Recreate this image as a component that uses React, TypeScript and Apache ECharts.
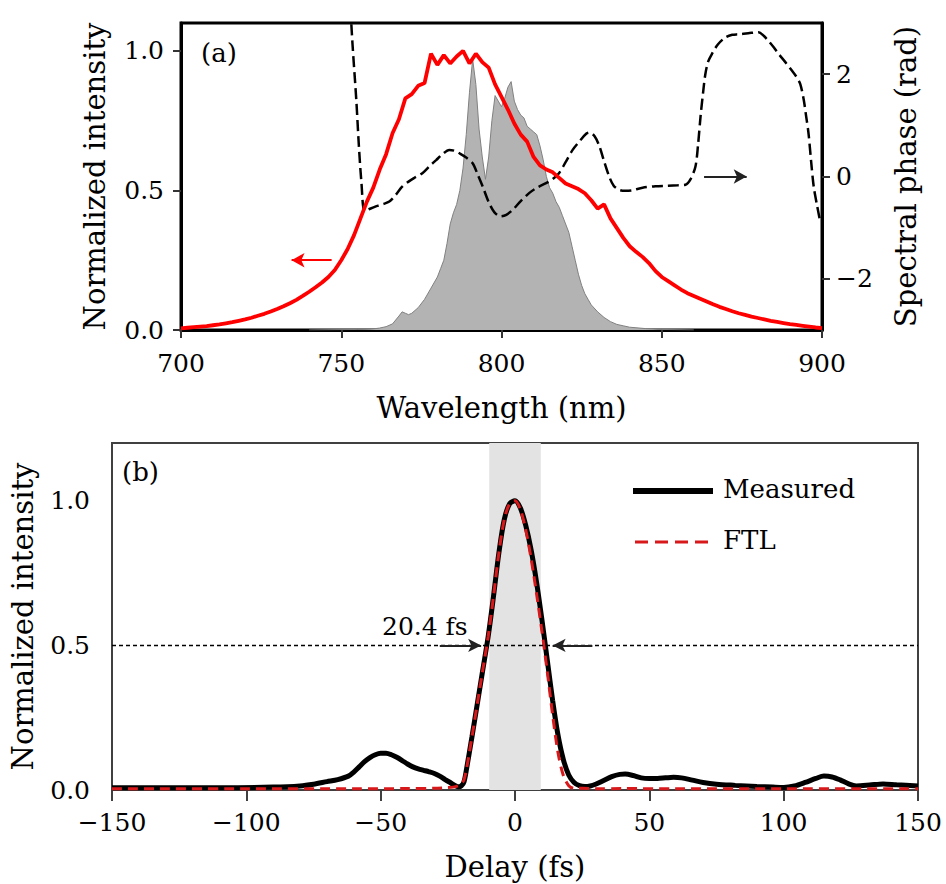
import React, { useEffect, useRef } from 'react';
import * as echarts from 'echarts';

const FONT = '"DejaVu Serif", serif';

// ---- Panel (a): spectra ----
const redWl = [700, 702, 704, 706, 708, 710, 712, 714, 716, 718, 720, 722, 724, 726, 728, 730, 732, 734, 736, 738, 740, 742, 744, 746, 748, 750, 752, 754, 756, 758, 760, 762, 764, 766, 768, 770, 772, 774, 776, 778, 780, 782, 784, 786, 788, 790, 792, 794, 796, 798, 800, 802, 804, 806, 808, 810, 812, 814, 816, 818, 820, 822, 824, 826, 828, 830, 832, 834, 836, 838, 840, 842, 844, 846, 848, 850, 852, 854, 856, 858, 860, 862, 864, 866, 868, 870, 872, 874, 876, 878, 880, 882, 884, 886, 888, 890, 892, 894, 896, 898, 900];
const redInt = [0.006, 0.008, 0.010, 0.012, 0.014, 0.017, 0.020, 0.024, 0.028, 0.033, 0.038, 0.044, 0.051, 0.058, 0.066, 0.075, 0.085, 0.096, 0.108, 0.122, 0.137, 0.153, 0.170, 0.190, 0.215, 0.250, 0.290, 0.340, 0.400, 0.460, 0.510, 0.575, 0.630, 0.705, 0.755, 0.830, 0.845, 0.875, 0.885, 0.990, 0.950, 0.985, 0.955, 0.980, 1.000, 0.955, 0.990, 0.960, 0.940, 0.880, 0.835, 0.790, 0.740, 0.700, 0.675, 0.620, 0.590, 0.575, 0.565, 0.545, 0.525, 0.515, 0.505, 0.490, 0.465, 0.435, 0.450, 0.400, 0.365, 0.330, 0.300, 0.280, 0.262, 0.240, 0.212, 0.190, 0.175, 0.160, 0.145, 0.132, 0.122, 0.112, 0.102, 0.092, 0.083, 0.075, 0.067, 0.060, 0.054, 0.048, 0.043, 0.038, 0.033, 0.029, 0.025, 0.021, 0.018, 0.015, 0.012, 0.009, 0.007];

const grayWl = [740, 755, 760, 762, 764, 766, 768, 769, 770, 771, 772, 774, 776, 778, 780, 781, 782, 783, 784, 785, 786, 787, 788, 789, 790, 791, 792, 793, 794, 795, 796, 797, 798, 799, 800, 801, 802, 803, 804, 805, 806, 807, 808, 809, 810, 811, 812, 813, 814, 815, 816, 817, 818, 819, 820, 821, 822, 823, 824, 825, 826, 827, 828, 830, 832, 834, 836, 838, 840, 845, 850, 860];
const grayInt = [0.0, 0.002, 0.004, 0.007, 0.012, 0.022, 0.05, 0.065, 0.06, 0.055, 0.06, 0.08, 0.11, 0.15, 0.19, 0.22, 0.25, 0.31, 0.38, 0.42, 0.45, 0.5, 0.58, 0.7, 0.85, 0.97, 0.88, 0.72, 0.62, 0.54, 0.62, 0.75, 0.84, 0.82, 0.8, 0.83, 0.87, 0.89, 0.82, 0.79, 0.77, 0.76, 0.73, 0.72, 0.71, 0.7, 0.66, 0.61, 0.55, 0.51, 0.49, 0.46, 0.44, 0.41, 0.38, 0.35, 0.3, 0.25, 0.2, 0.16, 0.13, 0.11, 0.09, 0.065, 0.045, 0.03, 0.02, 0.015, 0.01, 0.005, 0.002, 0.0];

const phaseWl = [752.6, 753.5, 754.7, 755.5, 756.3, 757.3, 759, 761, 763, 765, 767, 769, 771, 773, 775.4, 777.5, 779.6, 781.5, 783.7, 785.5, 787, 789, 791, 792.5, 794.1, 796, 797.8, 799.8, 801.5, 803.5, 806, 808.7, 811, 813.9, 816, 818, 820, 822.2, 824.5, 826.5, 827.5, 829, 830.5, 832, 833.6, 835, 836.7, 838.5, 840.8, 844, 848, 852, 855, 857.4, 859, 860.5, 861.3, 862.1, 863, 863.6, 864.5, 865.7, 867.5, 869.9, 872, 874, 877, 880.2, 881.8, 883.3, 885, 886.4, 888.5, 890.6, 892, 893.2, 894.3, 895, 895.8, 896.6, 897.4, 898.5, 899.5];
const phaseVal = [3.6, 2.6, 1.49, 0.6, -0.12, -0.68, -0.63, -0.58, -0.54, -0.49, -0.36, -0.2, -0.1, -0.02, 0.07, 0.2, 0.32, 0.43, 0.52, 0.5, 0.45, 0.37, 0.26, 0.05, -0.19, -0.5, -0.7, -0.78, -0.75, -0.65, -0.48, -0.32, -0.22, -0.13, -0.05, 0.07, 0.28, 0.52, 0.7, 0.84, 0.86, 0.79, 0.6, 0.3, 0.0, -0.18, -0.26, -0.28, -0.27, -0.22, -0.19, -0.18, -0.17, -0.16, -0.05, 0.19, 0.6, 1.17, 1.7, 2.0, 2.25, 2.4, 2.58, 2.72, 2.77, 2.78, 2.8, 2.82, 2.75, 2.65, 2.52, 2.4, 2.24, 2.07, 1.95, 1.81, 1.5, 1.2, 0.84, 0.3, -0.19, -0.58, -0.9];

const wlTicks = [700, 750, 800, 850, 900];
const intTicks = [0, 0.5, 1.0];
const phaseTicks = [-2, 0, 2];

// ---- Panel (b): pulses ----
const measDelay = [-150, -130, -110, -90, -80, -75, -70, -66, -62, -60, -58, -56, -54, -52, -50, -48, -46, -44, -42, -40, -38, -36, -34, -32, -30, -28, -26, -24, -22, -21, -20, -19, -18, -16, -14, -12, -10, -8, -6, -4, -2, 0, 2, 4, 6, 8, 10, 12, 14, 16, 18, 20, 22, 24, 26, 28, 30, 33, 36, 39, 41, 44, 47, 50, 53, 56, 59, 62, 66, 70, 75, 82, 90, 96, 100, 104, 108, 112, 115, 118, 121, 124, 127, 132, 137, 142, 150];
const measVal = [0.008, 0.008, 0.008, 0.01, 0.014, 0.02, 0.029, 0.036, 0.048, 0.062, 0.08, 0.098, 0.112, 0.122, 0.127, 0.127, 0.122, 0.113, 0.102, 0.09, 0.08, 0.073, 0.068, 0.063, 0.057, 0.048, 0.036, 0.025, 0.014, 0.011, 0.014, 0.028, 0.075, 0.185, 0.3, 0.415, 0.53, 0.67, 0.82, 0.935, 0.99, 1.0, 0.975, 0.915, 0.83, 0.72, 0.59, 0.45, 0.31, 0.19, 0.105, 0.052, 0.026, 0.015, 0.012, 0.014, 0.02, 0.033, 0.046, 0.054, 0.055, 0.05, 0.042, 0.04, 0.04, 0.042, 0.044, 0.042, 0.034, 0.026, 0.02, 0.016, 0.012, 0.01, 0.009, 0.014, 0.026, 0.04, 0.048, 0.045, 0.035, 0.022, 0.014, 0.017, 0.021, 0.018, 0.014];

const ftlDelay = [-150, -100, -60, -40, -30, -26, -23, -21, -20, -19, -18, -16, -14, -12, -10, -8, -6, -4, -2, 0, 2, 4, 6, 8, 10, 12, 14, 16, 18, 20, 22, 25, 30, 40, 60, 100, 150];
const ftlVal = [0.004, 0.004, 0.004, 0.005, 0.006, 0.008, 0.01, 0.015, 0.022, 0.035, 0.075, 0.185, 0.3, 0.415, 0.53, 0.67, 0.82, 0.935, 0.99, 1.0, 0.97, 0.9, 0.8, 0.68, 0.55, 0.41, 0.26, 0.13, 0.05, 0.015, 0.006, 0.006, 0.004, 0.005, 0.004, 0.004, 0.004];

const delayTicks = [-150, -100, -50, 0, 50, 100, 150];
const intTicksB = [0, 0.5, 1.0];

const fwhmText = '20.4 fs';
const bandRange = [-9.6, 9.6];

const zip = (a: number[], b: number[]) => a.map((v, i) => [v, b[i]]);
const fmtMinus = (v: number) => (v < 0 ? '\u2212' + Math.abs(v) : String(v));

const arrowHead = 'arrow';

function buildOption(): any {
  const tickLab = { fontSize: 25, color: '#000', fontFamily: FONT };
  const nameSty = { fontSize: 29, color: '#000', fontFamily: FONT };
  return {
    animation: false,
    textStyle: { fontFamily: FONT },
    grid: [
      { left: 181, top: 23, width: 641, height: 307, show: true, borderColor: '#000', borderWidth: 3, backgroundColor: 'transparent' },
      { left: 107, top: 443, width: 811, height: 347, show: true, borderColor: '#404040', borderWidth: 2, backgroundColor: 'transparent' },
    ],
    xAxis: [
      {
        gridIndex: 0, type: 'value', min: 700, max: 900, interval: 50,
        axisLine: { show: true, lineStyle: { color: '#000', width: 3 } },
        axisTick: { show: true, length: 8, customValues: wlTicks, lineStyle: { color: '#333', width: 2 } },
        axisLabel: { margin: 21, ...tickLab, customValues: wlTicks },
        splitLine: { show: false },
        name: 'Wavelength (nm)', nameLocation: 'middle', nameGap: 63, nameTextStyle: nameSty,
      },
      {
        gridIndex: 1, type: 'value', min: -150, max: 150, interval: 50,
        axisLine: { show: true, lineStyle: { color: '#404040', width: 2 } },
        axisTick: { show: true, length: 11, customValues: delayTicks, lineStyle: { color: '#404040', width: 2 } },
        axisLabel: { margin: 20, ...tickLab, customValues: delayTicks, formatter: fmtMinus },
        splitLine: { show: false },
        name: 'Delay (fs)', nameLocation: 'middle', nameGap: 62, nameTextStyle: nameSty,
      },
    ],
    yAxis: [
      {
        gridIndex: 0, type: 'value', min: 0, max: 1.1, interval: 0.5,
        axisLine: { show: true, lineStyle: { color: '#000', width: 3 } },
        axisTick: { show: true, length: 8, customValues: intTicks, lineStyle: { color: '#333', width: 2 } },
        axisLabel: { margin: 17, ...tickLab, customValues: intTicks, formatter: (v: number) => v.toFixed(1) },
        splitLine: { show: false },
        name: 'Normalized intensity', nameLocation: 'middle', nameRotate: 90, nameGap: 72, nameTextStyle: nameSty,
      },
      {
        gridIndex: 0, type: 'value', position: 'right', min: -3, max: 3, interval: 1,
        axisLine: { show: true, lineStyle: { color: '#000', width: 3 } },
        axisTick: { show: true, length: 8, customValues: phaseTicks, lineStyle: { color: '#333', width: 2 } },
        axisLabel: { margin: 14, ...tickLab, customValues: phaseTicks, formatter: fmtMinus },
        splitLine: { show: false },
        name: 'Spectral phase (rad)', nameLocation: 'middle', nameRotate: 90, nameGap: 69, nameTextStyle: nameSty,
      },
      {
        gridIndex: 1, type: 'value', min: 0, max: 1.2, interval: 0.5,
        axisLine: { show: true, lineStyle: { color: '#404040', width: 2 } },
        axisTick: { show: true, length: 11, customValues: intTicksB, lineStyle: { color: '#404040', width: 2 } },
        axisLabel: { margin: 22, ...tickLab, customValues: intTicksB, formatter: (v: number) => v.toFixed(1) },
        splitLine: { show: false },
        name: 'Normalized intensity', nameLocation: 'middle', nameRotate: 90, nameGap: 75, nameTextStyle: nameSty,
      },
    ],
    series: [
      {
        name: 'Transmitted', type: 'line', xAxisIndex: 0, yAxisIndex: 0, z: 2,
        data: zip(grayWl, grayInt), symbol: 'none',
        lineStyle: { color: '#808080', width: 1 },
        areaStyle: { color: '#b3b3b3', opacity: 1 },
      },
      {
        name: 'Phase', type: 'line', xAxisIndex: 0, yAxisIndex: 1, z: 3,
        data: zip(phaseWl, phaseVal), symbol: 'none', smooth: 0.3,
        lineStyle: { color: '#000', width: 2.5, type: [11, 5] },
        markLine: {
          silent: true, animation: false, label: { show: false },
          lineStyle: { color: '#222', width: 2, type: 'solid' },
          data: [[
            { coord: [863.2, 0], symbol: 'none' },
            { coord: [876.5, 0], symbol: arrowHead, symbolSize: [11, 13] },
          ]],
        },
      },
      {
        name: 'Spectrum', type: 'line', xAxisIndex: 0, yAxisIndex: 0, z: 4,
        data: zip(redWl, redInt), symbol: 'none',
        lineStyle: { color: '#ff0000', width: 3.8 },
        markLine: {
          silent: true, animation: false, label: { show: false },
          lineStyle: { color: '#ff0000', width: 2, type: 'solid' },
          data: [[
            { coord: [747, 0.25], symbol: 'none' },
            { coord: [734.5, 0.25], symbol: arrowHead, symbolSize: [11, 13] },
          ]],
        },
      },
      {
        name: 'FTL', type: 'line', xAxisIndex: 1, yAxisIndex: 2, z: 4,
        data: zip(ftlDelay, ftlVal), symbol: 'none', smooth: 0.3,
        lineStyle: { color: '#d7191c', width: 3, type: [10, 6] },
        markArea: {
          silent: true,
          itemStyle: { color: '#e3e3e3' },
          data: [[{ xAxis: bandRange[0] }, { xAxis: bandRange[1] }]],
        },
      },
      {
        name: 'Measured', type: 'line', xAxisIndex: 1, yAxisIndex: 2, z: 3,
        data: zip(measDelay, measVal), symbol: 'none', smooth: 0.3,
        lineStyle: { color: '#000', width: 5 },
        markLine: {
          silent: true, animation: false, label: { show: false },
          symbol: ['none', 'none'],
          lineStyle: { color: '#000', width: 1.4, type: [4, 3] },
          data: [
            { yAxis: 0.5 },
            [
              { coord: [-28, 0.5], symbol: 'none', lineStyle: { type: 'solid', width: 2, color: '#222' } },
              { coord: [-12.6, 0.5], symbol: arrowHead, symbolSize: [10, 13] },
            ],
            [
              { coord: [28.8, 0.5], symbol: 'none', lineStyle: { type: 'solid', width: 2, color: '#222' } },
              { coord: [14, 0.5], symbol: arrowHead, symbolSize: [10, 13] },
            ],
          ],
        },
      },
    ],
    graphic: [
      { type: 'text', left: 201, top: 40, z: 100, style: { text: '(a)', font: `26px ${FONT}`, fill: '#000' } },
      { type: 'text', left: 122, top: 459, z: 100, style: { text: '(b)', font: `26px ${FONT}`, fill: '#000' } },
      { type: 'text', left: 382, top: 614, z: 100, style: { text: fwhmText, font: `25px ${FONT}`, fill: '#000' } },
      { type: 'line', z: 100, shape: { x1: 633, y1: 491, x2: 713, y2: 491 }, style: { stroke: '#000', lineWidth: 6 } },
      { type: 'line', z: 100, shape: { x1: 635, y1: 542, x2: 713, y2: 542 }, style: { stroke: '#d7191c', lineWidth: 3, lineDash: [13, 7] } },
      { type: 'text', left: 723, top: 476, z: 100, style: { text: 'Measured', font: `26px ${FONT}`, fill: '#000' } },
      { type: 'text', left: 723, top: 527, z: 100, style: { text: 'FTL', font: `26px ${FONT}`, fill: '#000' } },
    ],
  };
}

export default function App() {
  const ref = useRef<HTMLDivElement>(null);
  useEffect(() => {
    if (!ref.current) return;
    const chart = echarts.init(ref.current, null, { renderer: 'svg' });
    chart.setOption(buildOption());
    return () => chart.dispose();
  }, []);
  return (
    <div
      ref={ref}
      style={{ position: 'fixed', left: 0, top: 0, width: 946, height: 884, background: '#fff' }}
    />
  );
}
